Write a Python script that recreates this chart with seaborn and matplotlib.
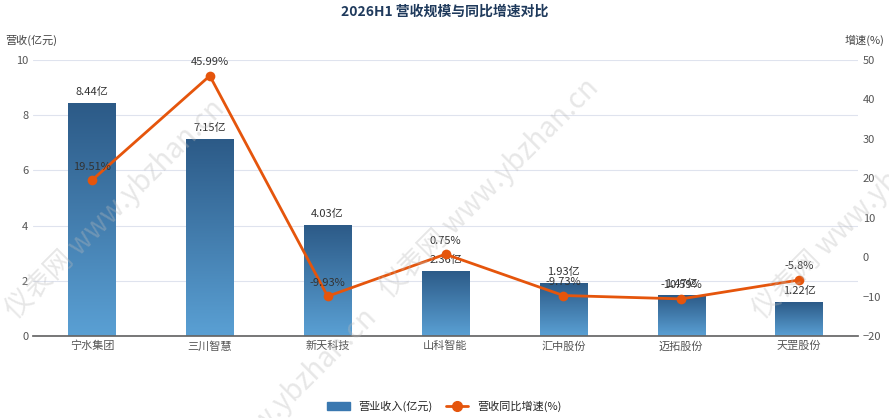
import matplotlib
matplotlib.use("Agg")
import matplotlib.pyplot as plt
import seaborn as sns
import numpy as np
import pandas as pd
from matplotlib.lines import Line2D
from matplotlib.patches import Patch

sns.set_theme(style="white")
plt.rcParams['font.family'] = ['Noto Sans CJK SC', 'DejaVu Sans']

companies = ["宁水集团", "三川智慧", "新天科技", "山科智能", "汇中股份", "迈拓股份", "天罡股份"]
revenue = [8.44, 7.15, 4.03, 2.36, 1.93, 1.47, 1.22]
growth = [19.51, 45.99, -9.93, 0.75, -9.73, -10.59, -5.8]

df = pd.DataFrame({"company": companies, "revenue": revenue, "growth": growth})

fig = plt.figure(figsize=(8.89, 4.18), dpi=100)
ax = fig.add_axes([33/889, 1-336/418, 825/889, 276/418])
sns.barplot(data=df, x="company", y="revenue", ax=ax, width=0.4, color="#3a78b0")
grad = np.linspace(0, 1, 256).reshape(-1, 1)
cmap = matplotlib.colors.LinearSegmentedColormap.from_list("g", ["#5aa0d4", "#2c5a87"])
for p in ax.patches:
    x0, y0, w, h = p.get_x(), p.get_y(), p.get_width(), p.get_height()
    im = ax.imshow(grad, extent=[x0, x0+w, y0, y0+h], origin="lower", aspect="auto", cmap=cmap, zorder=2)
    im.set_clip_path(p)
    p.set_alpha(0)
ax.set_xlim(-0.5, 6.5); ax.set_ylim(0, 10)
for i, v in enumerate(revenue):
    ax.text(i, v + 0.22, f"{v:g}亿", ha="center", va="bottom", fontsize=8, color="#333", zorder=5)
ax.set_yticks(range(0, 11, 2))
ax.tick_params(axis="both", labelsize=8, colors="#555", length=0)
ax.set_xlabel(""); ax.set_ylabel("")
ax.grid(axis="y", color="#dfe3ee", lw=0.8)
ax.set_axisbelow(True)
for s in ["top", "right", "left"]:
    ax.spines[s].set_visible(False)
ax.spines["bottom"].set_color("#666")

ax2 = ax.twinx()
sns.lineplot(data=df, x="company", y="growth", ax=ax2, color="#e5550c", lw=2,
             marker="o", markersize=7, markeredgewidth=0, sort=False)
ax2.set_ylim(-20, 50)
ax2.set_yticks(range(-20, 51, 10))
ax2.tick_params(axis="y", labelsize=8, colors="#555", length=0)
ax2.set_ylabel("")
for s in ["top", "right", "left", "bottom"]:
    ax2.spines[s].set_visible(False)
for i, g in enumerate(growth):
    ax2.text(i, g + 2.2, f"{g:g}%", ha="center", va="bottom", fontsize=8, color="#333", zorder=5)

fig.text(0.5, 1-12/418, "2026H1 营收规模与同比增速对比", ha="center", va="center",
         fontsize=10, fontweight="bold", color="#1f3a5c")
fig.text(5/889, 1-40/418, "营收(亿元)", fontsize=8, color="#444", va="center")
fig.text(884/889, 1-40/418, "增速(%)", fontsize=8, color="#444", va="center", ha="right")

for (x, y) in [(0.13, 0.5), (0.55, 0.55), (0.97, 0.5), (0.3, 0.0)]:
    fig.text(x, y, "仪表网 www.ybzhan.cn", rotation=45, fontsize=20, color="#bbbbbb",
             alpha=0.35, ha="center", va="center", zorder=0)

handles = [Patch(color="#3a78b0", label="营业收入(亿元)"),
           Line2D([0], [0], color="#e5550c", lw=2, marker="o", markersize=7, label="营收同比增速(%)")]
fig.legend(handles=handles, loc="center", bbox_to_anchor=(0.5, 1-406/418), ncol=2,
           frameon=False, fontsize=8, handlelength=2, columnspacing=1.2)
fig.savefig("out.png", dpi=100)
